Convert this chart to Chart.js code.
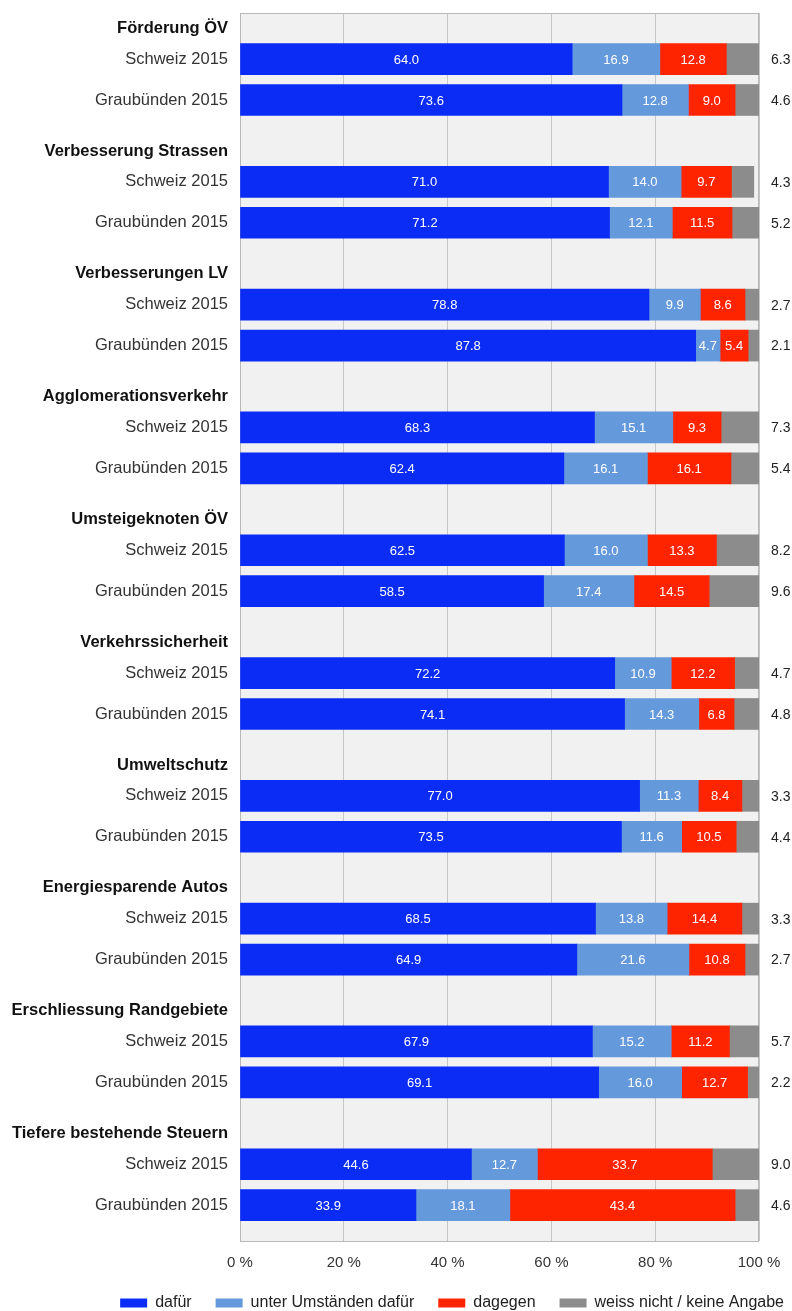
<!DOCTYPE html>
<html>
<head>
<meta charset="utf-8">
<script src="https://cdn.jsdelivr.net/npm/chart.js@4"></script>
<style>
  html, body { margin: 0; padding: 0; background: #fff; }
  #wrap { width: 792px; height: 1311px; }
</style>
</head>
<body>
<div id="wrap"><canvas id="chart" width="792" height="1311"></canvas></div>
<script>
// Kategorien (Überschriften) und Zeilen pro Kategorie
const groups = [
  'Förderung ÖV',
  'Verbesserung Strassen',
  'Verbesserungen LV',
  'Agglomerationsverkehr',
  'Umsteigeknoten ÖV',
  'Verkehrssicherheit',
  'Umweltschutz',
  'Energiesparende Autos',
  'Erschliessung Randgebiete',
  'Tiefere bestehende Steuern'
];
const regions = ['Schweiz 2015', 'Graubünden 2015'];

// Werte in %, je Kategorie: Schweiz, Graubünden
const dafuer          = [64.0, 73.6, 71.0, 71.2, 78.8, 87.8, 68.3, 62.4, 62.5, 58.5, 72.2, 74.1, 77.0, 73.5, 68.5, 64.9, 67.9, 69.1, 44.6, 33.9];
const unterUmstaenden = [16.9, 12.8, 14.0, 12.1, 9.9, 4.7, 15.1, 16.1, 16.0, 17.4, 10.9, 14.3, 11.3, 11.6, 13.8, 21.6, 15.2, 16.0, 12.7, 18.1];
const dagegen         = [12.8, 9.0, 9.7, 11.5, 8.6, 5.4, 9.3, 16.1, 13.3, 14.5, 12.2, 6.8, 8.4, 10.5, 14.4, 10.8, 11.2, 12.7, 33.7, 43.4];
const weissNicht      = [6.3, 4.6, 4.3, 5.2, 2.7, 2.1, 7.3, 5.4, 8.2, 9.6, 4.7, 4.8, 3.3, 4.4, 3.3, 2.7, 5.7, 2.2, 9.0, 4.6];

const xTicks = [0, 20, 40, 60, 80, 100];

// each group gets 12 thin slots: heading in slot 1, the two bars in slots 4 and 8
const SLOTS = 12, HEAD = 1, ROWS = [4, 8];
const labels = [];
const headerIdx = new Set();
groups.forEach((g, gi) => {
  for (let u = 0; u < SLOTS; u++) {
    if (u === HEAD) { labels.push(g); headerIdx.add(labels.length - 1); }
    else if (u === ROWS[0]) labels.push(regions[0]);
    else if (u === ROWS[1]) labels.push(regions[1]);
    else labels.push('');
  }
});
const spread = vals => {
  const out = [];
  groups.forEach((g, gi) => {
    for (let u = 0; u < SLOTS; u++) {
      const r = ROWS.indexOf(u);
      out.push(r >= 0 ? vals[gi * 2 + r] : null);
    }
  });
  return out;
};

const FONT = '"Liberation Sans", Arial, sans-serif';
Chart.defaults.font.family = FONT;
Chart.defaults.color = '#333';

const plotBox = {
  id: 'plotBox',
  beforeDraw(chart) {
    const { ctx, chartArea: a } = chart;
    ctx.save();
    ctx.fillStyle = '#f1f1f1';
    ctx.fillRect(a.left, a.top, a.right - a.left, a.bottom - a.top);
    ctx.restore();
  },
  beforeDatasetsDraw(chart) {
    const { ctx, chartArea: a } = chart;
    ctx.save();
    ctx.strokeStyle = '#b8b8b8';
    ctx.lineWidth = 1;
    ctx.strokeRect(a.left + 0.5, a.top + 0.5, a.right - a.left - 1, a.bottom - a.top);
    ctx.restore();
  }
};

const valueLabels = {
  id: 'valueLabels',
  afterDatasetsDraw(chart) {
    const ctx = chart.ctx;
    ctx.save();
    ctx.textBaseline = 'middle';
    chart.data.datasets.forEach((ds, i) => {
      const meta = chart.getDatasetMeta(i);
      meta.data.forEach((bar, j) => {
        const v = ds.data[j];
        if (v == null) return;
        if (i < 3) {
          ctx.fillStyle = '#ffffff';
          ctx.font = '13px ' + FONT;
          ctx.textAlign = 'center';
          ctx.fillText(v.toFixed(1), (bar.x + bar.base) / 2, bar.y + 1);
        } else {
          ctx.fillStyle = '#222';
          ctx.font = '14px ' + FONT;
          ctx.textAlign = 'left';
          ctx.fillText(v.toFixed(1), chart.chartArea.right + 12, bar.y + 1);
        }
      });
    });
    ctx.restore();
  }
};

const makeDataset = (label, vals, color) => ({
  label,
  data: spread(vals),
  backgroundColor: color,
  borderWidth: 0,
  barThickness: 31
});

new Chart(document.getElementById('chart'), {
  type: 'bar',
  data: {
    labels,
    datasets: [
      makeDataset('dafür', dafuer, '#0a2cf5'),
      makeDataset('unter Umständen dafür', unterUmstaenden, '#6499dc'),
      makeDataset('dagegen', dagegen, '#ff2400'),
      makeDataset('weiss nicht / keine Angabe', weissNicht, '#8c8c8c')
    ]
  },
  options: {
    indexAxis: 'y',
    responsive: false,
    animation: false,
    layout: { padding: { top: 13, right: -16, left: 0, bottom: -10 } },
    scales: {
      x: {
        stacked: true,
        min: 0,
        max: 100,
        afterBuildTicks: scale => { scale.ticks = xTicks.map(v => ({ value: v })); },
        afterFit: scale => {
          scale.height = 30;
          scale.paddingLeft = 0;
          scale.paddingRight = 33;
        },
        grid: { color: '#c6c6c6', drawTicks: false },
        border: { display: false },
        ticks: {
          padding: 13,
          color: '#333',
          font: { size: 15 },
          callback: v => v + ' %'
        }
      },
      y: {
        stacked: true,
        afterFit: scale => {
          scale.width = 240;
          scale.paddingTop = 0;
          scale.paddingBottom = 0;
        },
        grid: { display: false, drawTicks: false },
        border: { display: false },
        ticks: {
          autoSkip: false,
          padding: 12,
          color: ctx => headerIdx.has(ctx.index) ? '#111' : '#333',
          font: ctx => ({ size: 16.5, weight: headerIdx.has(ctx.index) ? 'bold' : 'normal' })
        }
      }
    },
    plugins: {
      legend: {
        position: 'bottom',
        align: 'end',
        labels: {
          boxWidth: 27,
          boxHeight: 9,
          padding: 24,
          color: '#222',
          font: { size: 16 }
        }
      },
      tooltip: { enabled: false }
    }
  },
  plugins: [plotBox, valueLabels]
});
</script>
</body>
</html>
